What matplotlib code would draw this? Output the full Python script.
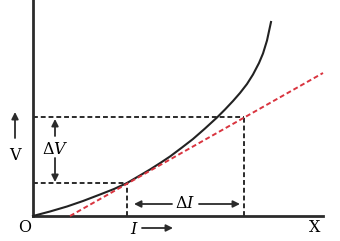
# V-I characteristic with tangent, showing dynamic resistance dV/dI
import matplotlib
matplotlib.use('Agg')
import matplotlib.pyplot as plt

# curve (I, V in arbitrary units)
I_curve = [0, 17, 34, 50, 67, 81, 94, 106, 117, 128, 137, 149, 160, 172, 184,
           192, 200, 207, 214, 220, 226, 230, 234, 238]
V_curve = [0, 4.5, 9.5, 15, 21.5, 27, 33, 40, 46.5, 53.5, 59.5, 68.5, 77, 87.5, 98.5,
           106.5, 115, 123, 132, 141.5, 153, 162.5, 175.5, 194]

# tangent line end points
I_tan = [37, 290]
V_tan = [0, 143]

# the two marked points on the tangent
I_pts = [94, 211]
V_pts = [33, 99]

I_max = 290
V_max = 216

plt.rcParams['font.family'] = ['DejaVu Serif']

fig = plt.figure(figsize=(3.4, 2.41), dpi=100)
ax = fig.add_axes([0, 0, 1, 1])
ax.set_xlim(-33, 307)
ax.set_ylim(-25, 216)
ax.axis('off')

dark = '#2b2b2b'
# axes lines
ax.plot([0, 0], [0, V_max], color=dark, lw=2)
ax.plot([0, I_max], [0, 0], color=dark, lw=2)

# dashed guides
for i, v in zip(I_pts, V_pts):
    ax.plot([0, i], [v, v], color=dark, lw=1.4, ls=(0, (2.5, 1.5)))
    ax.plot([i, i], [0, v], color=dark, lw=1.4, ls=(0, (2.5, 1.5)))

ax.plot(I_curve, V_curve, color='#222222', lw=1.5, solid_joinstyle='round')
ax.plot(I_tan, V_tan, color='#d9343f', lw=1.4, ls=(0, (2.5, 1.5)))

arrow = dict(arrowstyle='-|>', color=dark, lw=1.3, mutation_scale=10, shrinkA=0, shrinkB=0)

# V label with arrow
ax.annotate('', xy=(-18, 104), xytext=(-18, 78), arrowprops=arrow)
ax.text(-18, 61, 'V', ha='center', va='center', fontsize=11.5)

# delta V
ax.annotate('', xy=(22, 97), xytext=(22, 80), arrowprops=arrow)
ax.annotate('', xy=(22, 34), xytext=(22, 58), arrowprops=arrow)
ax.text(22, 67, r'$\Delta V$', ha='center', va='center', fontsize=11.5,
        math_fontfamily='dejavuserif')

# delta I
ax.annotate('', xy=(101, 12), xytext=(139, 12), arrowprops=arrow)
ax.annotate('', xy=(207, 12), xytext=(166, 12), arrowprops=arrow)
ax.text(152, 12, r'$\Delta I$', ha='center', va='center', fontsize=11.5,
        math_fontfamily='dejavuserif')

# axis labels
ax.text(-8, -12, 'O', ha='center', va='center', fontsize=11.5)
ax.text(282, -12, 'X', ha='center', va='center', fontsize=11.5)
ax.text(101, -13, r'$I$', ha='center', va='center', fontsize=11.5,
        math_fontfamily='dejavuserif')
ax.annotate('', xy=(140, -12), xytext=(109, -12), arrowprops=arrow)

plt.savefig('out.png', dpi=100)
